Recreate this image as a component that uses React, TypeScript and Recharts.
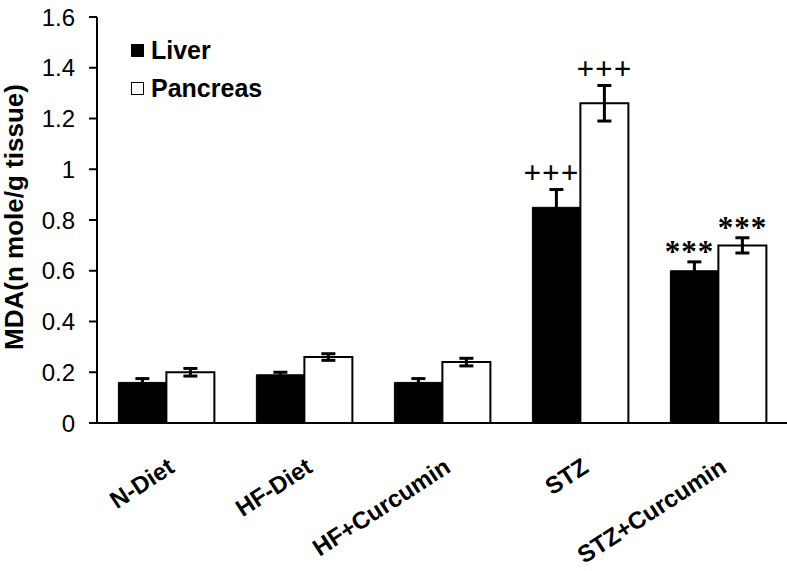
import React from 'react';
import { BarChart, Bar, XAxis, YAxis, ErrorBar, LabelList, Legend } from 'recharts';

const categories = ['N-Diet', 'HF-Diet', 'HF+Curcumin', 'STZ', 'STZ+Curcumin'];
const liver = [0.16, 0.19, 0.16, 0.85, 0.6];
const liverErr = [0.015, 0.01, 0.015, 0.07, 0.035];
const pancreas = [0.2, 0.26, 0.24, 1.26, 0.7];
const pancreasErr = [0.015, 0.013, 0.015, 0.07, 0.03];
const liverMarks = ['', '', '', '+++', '***'];
const pancreasMarks = ['', '', '', '+++', '***'];
const yTicks = [0, 0.2, 0.4, 0.6, 0.8, 1, 1.2, 1.4, 1.6];

const data = categories.map((name, i) => ({
  name,
  liver: liver[i],
  liverErr: liverErr[i],
  liverMark: liverMarks[i],
  pancreas: pancreas[i],
  pancreasErr: pancreasErr[i],
  pancreasMark: pancreasMarks[i],
}));

const SANS = "Arial, 'Liberation Sans', Helvetica, sans-serif";
const SERIF = "'Liberation Serif', 'Times New Roman', serif";

const markLabel = (vals: number[], errs: number[], dx: number) => (props: any) => {
  const { x, y, width, height, value, index } = props;
  if (!value) return null;
  const px = Number(height) / vals[index];
  const top = Number(y) - errs[index] * px;
  const isPlus = String(value).startsWith('+');
  return (
    <text
      x={Number(x) + Number(width) / 2 + dx}
      y={top - (isPlus ? 7 : 0)}
      textAnchor="middle"
      fontFamily={SERIF}
      fontWeight="bold"
      fontSize={31}
      letterSpacing={1}
      fill="#000"
    >
      {value}
    </text>
  );
};

const CategoryTick = (props: any) => {
  const { x, y, payload } = props;
  const tx = x + 10;
  const ty = y + 48;
  return (
    <text
      x={tx}
      y={ty}
      textAnchor="end"
      transform={`rotate(-33, ${tx}, ${ty})`}
      fontFamily={SANS}
      fontWeight="bold"
      fontSize={24}
      fill="#000"
    >
      {payload.value}
    </text>
  );
};

const YLabel = (props: any) => {
  const { viewBox } = props;
  const cx = viewBox.x + 14;
  const cy = viewBox.y + viewBox.height / 2 - 3;
  return (
    <text
      x={cx}
      y={cy}
      textAnchor="middle"
      dominantBaseline="central"
      transform={`rotate(-90, ${cx}, ${cy})`}
      fontFamily={SANS}
      fontWeight="bold"
      fontSize={26}
      fill="#000"
    >
      MDA(n mole/g tissue)
    </text>
  );
};

const legendItems = [
  { label: 'Liver', fill: '#000' },
  { label: 'Pancreas', fill: '#fff' },
];

const LegendBox = () => (
  <div style={{ fontFamily: SANS, fontWeight: 'bold', fontSize: 25, color: '#000' }}>
    {legendItems.map((it) => (
      <div key={it.label} style={{ display: 'flex', alignItems: 'center', height: 38 }}>
        <span
          style={{
            display: 'inline-block',
            width: 11,
            height: 11,
            background: it.fill,
            border: '1.5px solid #000',
            marginRight: 7,
          }}
        />
        {it.label}
      </div>
    ))}
  </div>
);

export default function App() {
  return (
    <div style={{ position: 'absolute', left: 0, top: 0, width: 787, height: 571, background: '#fff' }}>
      <BarChart
        width={787}
        height={571}
        data={data}
        margin={{ top: 17, right: 0, bottom: 0, left: 0 }}
        barGap={0}
        barCategoryGap="15.5%"
      >
        <XAxis
          dataKey="name"
          height={148}
          axisLine={{ stroke: '#000', strokeWidth: 2 }}
          tickLine={false}
          tickSize={0}
          tickMargin={0}
          interval={0}
          tick={<CategoryTick />}
        />
        <YAxis
          width={97}
          domain={[0, 1.6]}
          ticks={yTicks}
          interval={0}
          axisLine={{ stroke: '#000', strokeWidth: 2 }}
          tickLine={{ stroke: '#000', strokeWidth: 2 }}
          tickSize={8}
          tickMargin={14}
          tick={{ fill: '#000', fontSize: 24, fontFamily: SANS }}
          label={<YLabel />}
        />
        <Legend
          layout="vertical"
          verticalAlign="middle"
          align="center"
          wrapperStyle={{ left: 131, top: 31, width: 'auto' }}
          content={<LegendBox />}
        />
        <Bar dataKey="liver" fill="#000" stroke="#000" strokeWidth={1} isAnimationActive={false}>
          <ErrorBar dataKey="liverErr" width={7} stroke="#000" strokeWidth={3} direction="y" />
          <LabelList dataKey="liverMark" content={markLabel(liver, liverErr, -5)} />
        </Bar>
        <Bar dataKey="pancreas" fill="#fff" stroke="#000" strokeWidth={2} isAnimationActive={false}>
          <ErrorBar dataKey="pancreasErr" width={7} stroke="#000" strokeWidth={3} direction="y" />
          <LabelList dataKey="pancreasMark" content={markLabel(pancreas, pancreasErr, 0)} />
        </Bar>
      </BarChart>
    </div>
  );
}
